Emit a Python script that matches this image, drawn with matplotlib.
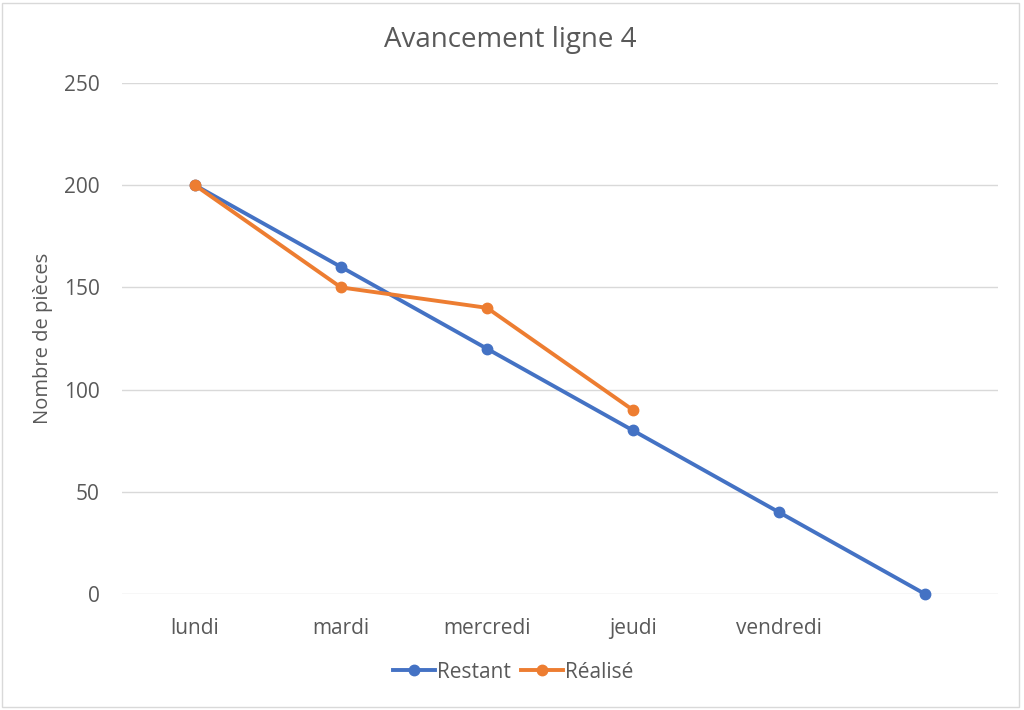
import numpy as np
import matplotlib.pyplot as plt
from matplotlib.patches import Rectangle

plt.rcParams['font.family'] = ['Open Sans', 'DejaVu Sans']

jours = ['lundi', 'mardi', 'mercredi', 'jeudi', 'vendredi', '']
restant = [200, 160, 120, 80, 40, 0]
realise = [200, 150, 140, 90, np.nan, np.nan]

fig = plt.figure(figsize=(10.24, 7.10), dpi=100)
ax = fig.add_axes([122/1024, 1-594/710, (998-122)/1024, (594-83)/710])

x = np.arange(len(jours))
ax.plot(x, restant, color='#4472C4', lw=2.8, marker='o', ms=7.5, label='Restant', zorder=3, clip_on=False)
ax.plot(x, realise, color='#ED7D31', lw=2.8, marker='o', ms=7.5, label='Réalisé', zorder=3, clip_on=False)

ax.set_xlim(-0.5, len(jours)-0.5)
ax.set_ylim(0, 250)
ax.set_yticks(range(0, 251, 50))
ax.set_xticks(x)
ax.set_xticklabels(jours)
ax.grid(axis='y', color='#d9d9d9', lw=1)
ax.set_axisbelow(True)
for s in ax.spines.values():
    s.set_visible(False)
ax.tick_params(length=0, labelsize=15, colors='#595959')
ax.tick_params(axis='x', pad=17)
ax.tick_params(axis='y', pad=16)
ax.set_ylabel('Nombre de pièces', fontsize=14.5, color='#595959', labelpad=8)

fig.text(510/1024, 1-40/710, 'Avancement ligne 4', ha='center', va='center', fontsize=20, color='#595959')

fig.legend(loc='center', bbox_to_anchor=(513/1024, 1-672/710), ncol=2, frameon=False,
           fontsize=15, labelcolor='#595959', handlelength=2.0, handletextpad=0.1, columnspacing=0.5)

fig.patches.append(Rectangle((2/1024, 3/710), 1017/1024, 704/710, transform=fig.transFigure,
                             fill=False, edgecolor='#d9d9d9', lw=1))

fig.savefig('out.png', dpi=100)
